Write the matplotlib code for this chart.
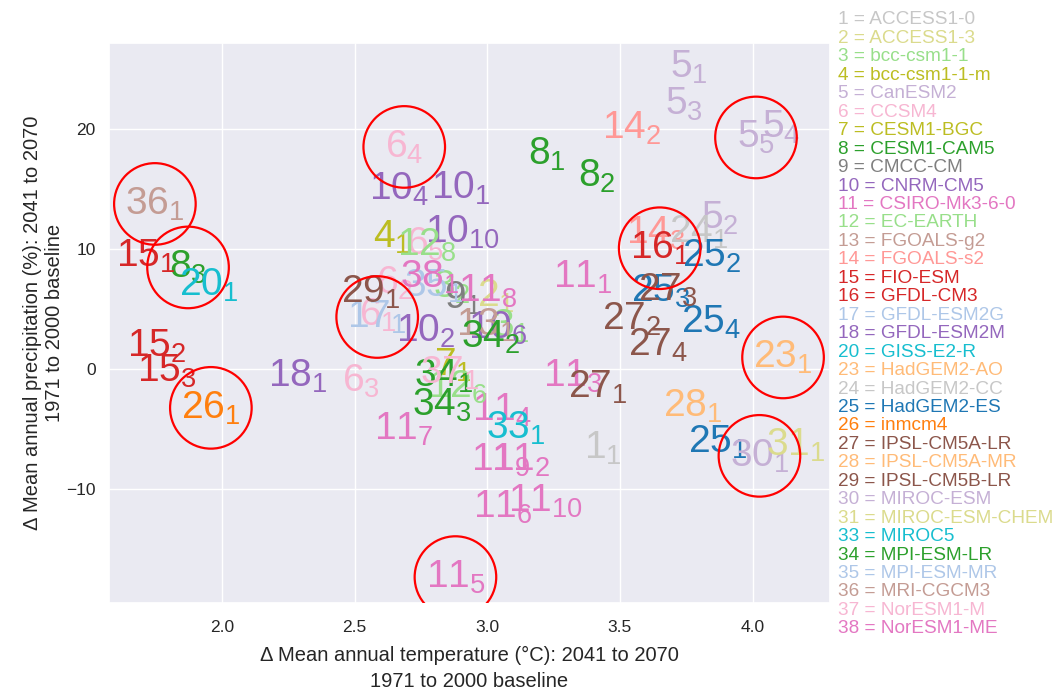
import matplotlib
matplotlib.use("Agg")
import matplotlib.pyplot as plt
import seaborn as sns

# ---- data -----------------------------------------------------------------
model_ids = [1, 2, 3, 4, 5, 6, 7, 8, 9, 10, 11, 12, 13, 14, 15, 16, 17, 18,
             20, 23, 24, 25, 26, 27, 28, 29, 30, 31, 33, 34, 35, 36, 37, 38]
model_names = ["ACCESS1-0", "ACCESS1-3", "bcc-csm1-1", "bcc-csm1-1-m", "CanESM2",
               "CCSM4", "CESM1-BGC", "CESM1-CAM5", "CMCC-CM", "CNRM-CM5",
               "CSIRO-Mk3-6-0", "EC-EARTH", "FGOALS-g2", "FGOALS-s2", "FIO-ESM",
               "GFDL-CM3", "GFDL-ESM2G", "GFDL-ESM2M", "GISS-E2-R", "HadGEM2-AO",
               "HadGEM2-CC", "HadGEM2-ES", "inmcm4", "IPSL-CM5A-LR", "IPSL-CM5A-MR",
               "IPSL-CM5B-LR", "MIROC-ESM", "MIROC-ESM-CHEM", "MIROC5", "MPI-ESM-LR",
               "MPI-ESM-MR", "MRI-CGCM3", "NorESM1-M", "NorESM1-ME"]
# index into the tab20 palette for each model
model_color_idx = [15, 17, 5, 16, 9, 13, 16, 4, 14, 8, 12, 5, 11, 7, 6, 6, 1, 8,
                   18, 3, 15, 0, 2, 10, 3, 10, 9, 17, 18, 4, 1, 11, 13, 12]

# one entry per simulation (model, run): change in temperature and precipitation
sim_model = [1, 2, 3, 3, 4,
             5, 5, 5, 5, 5,
             6, 6, 6, 6, 6,
             7, 8, 8, 8, 9,
             10, 10, 10, 10, 10,
             11, 11, 11, 11, 11, 11, 11, 11, 11, 11,
             12, 12, 13, 14, 14,
             15, 15, 15, 16, 17, 18, 20, 23, 24,
             25, 25, 25, 25, 26,
             27, 27, 27, 27, 28, 29, 30, 31, 33,
             34, 34, 34, 35, 36, 37, 38]
sim_run = [1, 1, 1, 2, 1,
           1, 2, 3, 4, 5,
           1, 2, 3, 4, 5,
           1, 1, 2, 3, 1,
           1, 2, 4, 6, 10,
           1, 2, 3, 4, 5, 6, 7, 8, 9, 10,
           8, 6, 1, 2, 3,
           1, 2, 3, 1, 1, 1, 1, 1, 1,
           1, 2, 3, 4, 1,
           1, 2, 3, 4, 1, 1, 1, 1, 1,
           1, 2, 3, 1, 1, 1, 1]
delta_temp = [3.437, 3.031, 3.088, 2.865, 2.640,
              3.760, 3.875, 3.743, 4.107, 4.013,
              2.589, 2.650, 2.523, 2.687, 2.767,
              2.872, 3.224, 3.414, 1.872, 2.910,
              2.899, 2.767, 2.667, 3.040, 2.908,
              3.360, 3.125, 3.322, 3.057, 2.880, 3.060, 2.685, 3.003, 3.050, 3.220,
              2.772, 2.887, 2.993, 3.546, 3.635,
              1.713, 1.755, 1.792, 3.650, 2.585, 2.285, 1.951, 4.115, 3.798,
              3.867, 3.845, 3.655, 3.845, 1.958,
              3.418, 3.543, 3.680, 3.645, 3.773, 2.559, 4.026, 4.164, 3.106,
              2.836, 3.014, 2.829, 2.800, 1.747, 2.857, 2.785]
delta_precip = [-6.54, 6.1, 3.6, 6.8, 11.04,
                25.2, 12.6, 22.1, 20.17, 19.33,
                4.54, 7.2, -0.96, 18.54, 10.4,
                0.37, 17.96, 16.1, 8.5, 5.9,
                15.13, 3.2, 15.04, 3.4, 11.42,
                7.7, -7.6, -0.54, -3.4, -17.3, -11.46, -4.96, 6.5, -7.54, -10.96,
                10.3, -1.5, 3.7, 20.1, 11.3,
                9.46, 1.96, -0.2, 10.1, 4.37, -0.54, 7.0, 1.0, 11.4,
                -6.08, 9.4, 6.5, 3.9, -3.2,
                -1.5, 4.2, 6.6, 2.04, -3.04, 6.42, -7.2, -6.3, -4.9,
                -0.54, 2.67, -2.96, 6.96, 13.79, -0.3, 7.7]

# simulations picked for the reduced ensemble (model, run)
selected = [(36, 1), (8, 3), (6, 4), (17, 1), (26, 1),
            (11, 5), (16, 1), (5, 5), (23, 1), (30, 1)]

# ---- style ------------------------------------------------------------------
sns.set_theme(style="darkgrid")
plt.rcParams["font.family"] = ["Liberation Sans", "DejaVu Sans"]
plt.rcParams["mathtext.default"] = "regular"

palette = plt.get_cmap("tab20").colors
colors = {m: palette[i] for m, i in zip(model_ids, model_color_idx)}

fig = plt.figure(figsize=(10.54, 6.90), dpi=100)
ax = fig.add_axes([109 / 1054, 1 - 603 / 690, (830 - 109) / 1054, (603 - 43) / 690])

# one label per simulation: model number with run number as subscript
order = sorted(range(len(sim_model)), key=lambda i: (sim_model[i], sim_run[i]))
for i in order:
    m, r = sim_model[i], sim_run[i]
    ax.text(delta_temp[i], delta_precip[i], rf"${m}_{{{r}}}$",
            color=colors[m], fontsize=28, ha="center", va="center", zorder=3)

# red rings round the selected simulations
lookup = {(m, r): (x, y) for m, r, x, y in zip(sim_model, sim_run, delta_temp, delta_precip)}
sel_x = [lookup[k][0] for k in selected]
sel_y = [lookup[k][1] for k in selected]
ax.scatter(sel_x, sel_y, s=3450, facecolors="none", edgecolors="red",
           linewidths=1.6, zorder=5)

ax.set_xlim(1.574, 4.292)
ax.set_ylim(-19.46, 27.2)
ax.tick_params(labelsize=12.5)
ax.tick_params(axis="x", pad=6)
ax.set_xlabel("\u0394 Mean annual temperature (\u00b0C): 2041 to 2070\n1971 to 2000 baseline",
              fontsize=14.5, labelpad=8, linespacing=1.45)
ax.set_ylabel("\u0394 Mean annual precipitation (%): 2041 to 2070\n1971 to 2000 baseline",
              fontsize=14.5, labelpad=2)

# colour key of model numbers on the right
y0, step = 1 - 20 / 690, 18.45 / 690
for k, (m, name) in enumerate(zip(model_ids, model_names)):
    fig.text(838 / 1054, y0 - k * step, f"{m} = {name}", color=colors[m],
             fontsize=13.7, ha="left", va="center")

fig.savefig("out.png", dpi=100)
